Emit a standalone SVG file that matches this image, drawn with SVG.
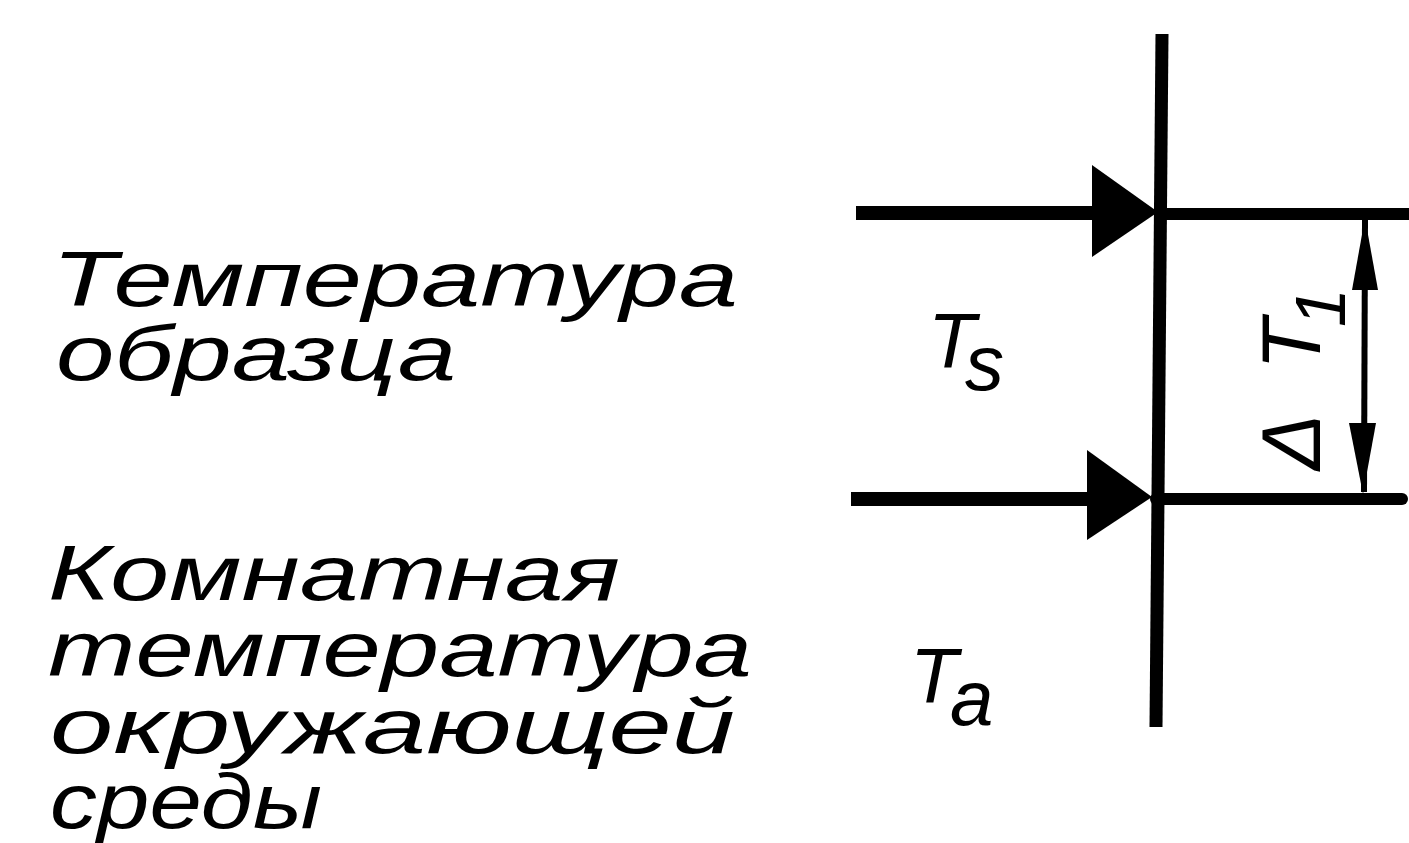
<svg xmlns="http://www.w3.org/2000/svg" width="1409" height="843" viewBox="0 0 1409 843">
<style>
.lbl{font-family:"Liberation Sans","DejaVu Sans",sans-serif;font-style:italic;fill:#000;}
.big{font-size:78px;}
.ln{stroke:#000;fill:none;}
.ah{fill:#000;stroke:none;}
</style>
<rect x="0" y="0" width="1409" height="843" fill="#fff"/>
<g id="connectors">
  <line class="ln" x1="1162" y1="34" x2="1156" y2="727" stroke-width="13"/>
  <line class="ln" x1="856" y1="213" x2="1100" y2="213" stroke-width="14"/>
  <line class="ln" x1="1156" y1="214" x2="1409" y2="214" stroke-width="12"/>
  <polygon class="ah" points="1092,165 1158,212 1092,257"/>
  <line class="ln" x1="851" y1="499" x2="1100" y2="499" stroke-width="14"/>
  <line class="ln" x1="1156" y1="499" x2="1402" y2="499" stroke-width="12" stroke-linecap="round"/>
  <polygon class="ah" points="1087,450 1152,497 1087,540"/>
  <line class="ln" x1="1365" y1="220" x2="1364" y2="492" stroke-width="6"/>
  <polygon class="ah" points="1365,218 1378,290 1352,290"/>
  <polygon class="ah" points="1363,494 1376,423 1349,423"/>
</g>
<g id="label-sample">
  <text class="lbl big" x="52" y="306" textLength="686" lengthAdjust="spacingAndGlyphs">Температура</text>
  <text class="lbl big" x="56" y="380" textLength="400" lengthAdjust="spacingAndGlyphs">образца</text>
</g>
<g id="label-ambient">
  <text class="lbl big" x="48" y="600" textLength="572" lengthAdjust="spacingAndGlyphs">Комнатная</text>
  <text class="lbl big" x="48" y="676" textLength="704" lengthAdjust="spacingAndGlyphs">температура</text>
  <text class="lbl big" x="50" y="753" textLength="685" lengthAdjust="spacingAndGlyphs">окружающей</text>
  <text class="lbl big" x="50" y="828" textLength="272" lengthAdjust="spacingAndGlyphs">среды</text>
</g>
<g id="Ts">
  <text class="lbl big" x="928" y="368">T<tspan x="965" y="390">s</tspan></text>
</g>
<g id="Ta">
  <text class="lbl big" x="910" y="703">T<tspan x="950" y="725">a</tspan></text>
</g>
<g id="dT1">
  <text class="lbl" font-size="84" transform="translate(1320,470) rotate(-90)" x="0" y="0">Δ<tspan x="100">T</tspan><tspan x="143" y="25" font-size="70">1</tspan></text>
</g>
</svg>
